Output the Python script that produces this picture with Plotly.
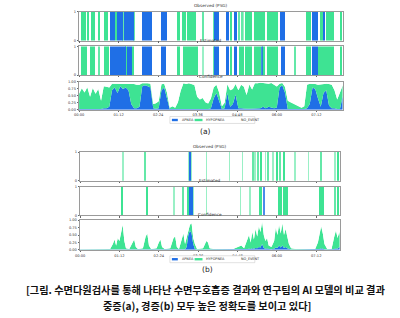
import plotly.graph_objects as go

# ---------------- DATA ----------------
TICK_VALS = [0, 72, 144, 216, 288, 360, 432]
TICK_TEXT = ["00:00", "01:12", "02:24", "03:36", "04:48", "06:00", "07:12"]
LABELS = ["APNEA", "HYPOPNEA", "NO_EVENT"]
PANEL_NAMES = ["Observed (PSG)", "Estimated", "Confidence"]
CAPTION_1 = "[그림. 수면다원검사를 통해 나타난 수면무호흡증 결과와 연구팀의 AI 모델의 비교 결과"
CAPTION_2 = "중증(a), 경증(b) 모두 높은 정확도를 보이고 있다]"

# events: (start_min, end_min, label)  A = apnea, H = hypopnea
obs_a = [(3, 12, "H"), (15, 19, "H"), (22, 30, "H"), (35, 38, "H"), (45, 53, "H"),
         (57, 66, "A"), (66, 69, "H"), (69, 80, "A"), (80, 82, "H"), (82, 94, "A"),
         (94, 100, "A"), (100, 102, "H"), (114, 132, "A"), (149, 160, "A"),
         (180, 183, "H"), (188, 195, "H"), (196, 213, "H"), (225, 227, "H"),
         (244, 246, "H"), (246, 255, "A"), (267, 273, "A"), (276, 279, "H"),
         (282, 288, "A"), (291, 293, "H"), (295, 297, "H"), (299, 300, "H"),
         (302, 315, "H"), (318, 339, "H"), (342, 363, "H"), (366, 375, "A"),
         (414, 423, "H"), (424, 435, "A"), (438, 445, "H"), (445, 448, "A"),
         (450, 465, "H"), (476, 479, "H")]
est_a = [(3, 15, "H"), (20, 30, "H"), (36, 38, "H"), (45, 54, "H"),
         (57, 85, "A"), (85, 88, "H"), (88, 96, "A"), (96, 101, "H"),
         (115, 132, "A"), (149, 159, "A"), (180, 183, "H"), (189, 216, "H"),
         (225, 226, "H"), (244, 246, "H"), (246, 255, "A"), (267, 273, "A"),
         (276, 279, "H"), (282, 288, "A"), (291, 300, "H"), (302, 315, "H"),
         (318, 332, "H"), (332, 334, "A"), (334, 339, "H"), (342, 363, "H"),
         (367, 375, "A"), (393, 395, "H"), (414, 423, "H"), (424, 435, "A"),
         (435, 465, "H"), (476, 479, "H")]
obs_b = [(78, 79, "H"), (118, 120, "H"), (199, 200, "H"), (200, 203, "A"),
         (203, 204, "H"), (231, 232, "H"), (273, 274, "H"), (297, 298, "H"),
         (315, 317, "H"), (320, 321, "H"), (324, 326, "H"), (330, 333, "H"),
         (339, 340, "H"), (343, 345, "H"), (352, 353, "H"), (360, 363, "H"),
         (365, 367, "H"), (372, 375, "H"), (393, 394, "H"), (417, 418, "H"),
         (440, 442, "H"), (466, 467, "H"), (471, 474, "H")]
est_b = [(75, 79, "H"), (120, 124, "H"), (171, 172, "H"), (188, 190, "H"),
         (196, 199, "H"), (199, 206, "A"), (206, 207, "H"), (231, 232, "H"),
         (293, 294, "H"), (310, 311, "H"), (327, 333, "H"), (335, 337, "A"),
         (362, 369, "H"), (372, 381, "H"), (438, 446, "H"), (466, 468, "H"),
         (471, 474, "H")]

# confidence (a): times in minutes, apnea / hypopnea probabilities
t_a = list(range(0, 481, 5))
apnea_a = [.02, .02, .02, .03, .02, .03, .02, .03, .02, .05, .05, .10, .70, .80, .60, .85,
           .75, .80, .70, .20, .05, .05, .10, .85, .88, .85, .80, .05, .03, .05, .70, .80,
           .40, .02, .02, .02, .02, .03, .03, .03, .02, .03, .03, .02, .02, .02, .02, .02,
           .05, .40, .60, .30, .02, .05, .60, .10, .20, .55, .05, .05, .03, .03, .03, .03,
           .03, .05, .05, .10, .05, .10, .08, .05, .08, .80, .88, .60, .02, .02, .02, .02,
           .02, .02, .02, .05, .20, .80, .75, .40, .10, .60, .70, .15, .05, .05, .02, .02, .50]
hypo_a = [.55, .75, .60, .78, .45, .75, .55, .72, .30, .80, .78, .70, .24, .14, .34, .10,
          .18, .14, .24, .74, .88, .85, .80, .10, .08, .10, .14, .15, .20, .25, .22, .14,
          .22, .05, .10, .05, .25, .65, .92, .90, .93, .90, .86, .45, .35, .40, .25, .20,
          .35, .40, .30, .32, .10, .20, .32, .60, .55, .38, .65, .85, .80, .50, .88, .70,
          .92, .90, .92, .86, .90, .84, .88, .84, .76, .14, .08, .22, .30, .25, .20, .15,
          .08, .05, .10, .85, .74, .14, .18, .50, .82, .34, .24, .78, .85, .65, .35, .60, .38]

# confidence (b)
t_b = [0, 20, 40, 55, 60, 63, 66, 69, 72, 75, 78, 81, 84, 90, 96, 99, 102, 106, 115, 120,
       123, 126, 130, 140, 144, 147, 150, 155, 165, 171, 174, 177, 181, 186, 189, 192, 195,
       198, 201, 204, 207, 210, 214, 225, 231, 234, 237, 245, 260, 280, 295, 300, 306, 309,
       312, 315, 318, 321, 324, 327, 330, 333, 336, 339, 342, 345, 350, 355, 358, 361, 364,
       367, 370, 373, 376, 379, 382, 386, 395, 410, 430, 435, 438, 441, 444, 447, 452, 460,
       465, 468, 471, 474, 475]
apnea_b = [.01, .01, .01, .01, .01, .01, .01, .01, .01, .01, .02, .01, .01, .01, .01, .01,
           .01, .01, .01, .01, .01, .01, .01, .01, .01, .01, .01, .01, .01, .01, .01, .01,
           .01, .02, .03, .02, .10, .50, .65, .55, .20, .03, .01, .01, .01, .01, .01, .01,
           .01, .01, .01, .01, .03, .04, .03, .05, .04, .06, .05, .10, .08, .20, .06, .04,
           .05, .03, .02, .04, .08, .06, .15, .08, .15, .06, .10, .05, .03, .01, .01, .01,
           .01, .01, .03, .05, .03, .02, .01, .01, .03, .05, .04, .10, .08]
hypo_b = [.01, .01, .01, .02, .19, .34, .14, .39, .29, .54, .83, .29, .04, .02, .24, .34,
          .09, .02, .04, .44, .54, .14, .02, .04, .24, .34, .09, .02, .04, .39, .44, .09,
          .02, .33, .52, .18, .30, .10, .20, .35, .20, .17, .02, .04, .29, .24, .04, .02,
          .02, .02, .14, .04, .32, .46, .22, .55, .31, .64, .40, .70, .52, .75, .44, .26,
          .35, .12, .08, .26, .67, .44, .70, .47, .75, .44, .60, .35, .17, .04, .02, .02,
          .02, .24, .57, .75, .52, .18, .02, .02, .42, .60, .36, .50, .42]

# ---------------- STYLE ----------------
COLORS = {"A": "#1f6fe6", "H": "#3ee393"}
W, H = 400, 318
FONT = "DejaVu Sans"
AX_COLOR = "#9a9a9a"

def py(v):  # pixel row -> paper y
    return 1 - v / H

def px(v):
    return v / W

# subplot boxes in pixels: (x0, x1, ytop, ybottom, xmax)
boxes = [
    (75, 342, 10, 39, 480), (75, 342, 45, 74, 480), (75, 342, 81, 109, 480),
    (76, 339, 152, 181, 475), (76, 339, 187, 216, 475), (76, 339, 221, 251, 475),
]

fig = go.Figure()

def add_events(events, idx):
    xmax = boxes[idx - 1][4]
    pxmin = (boxes[idx - 1][1] - boxes[idx - 1][0]) / xmax  # pixels per minute
    for lab in ("H", "A"):
        sel = [(s, e) for s, e, l in events if l == lab]
        for s, e in sel:
            wpx = (e - s) * pxmin
            op = min(1.0, 0.25 + 0.5 * wpx)
            fig.add_trace(go.Bar(x=[(s + e) / 2], y=[1], width=[e - s], base=0,
                                 marker=dict(color=COLORS[lab], line=dict(width=0),
                                             opacity=op),
                                 xaxis=f"x{idx}", yaxis=f"y{idx}", showlegend=False,
                                 hoverinfo="skip"))

def add_conf(t, ap, hy, idx, grp):
    no = [max(0.0, 1 - a - h) for a, h in zip(ap, hy)]
    for vals, col, name in [(ap, COLORS["A"], LABELS[0]), (hy, COLORS["H"], LABELS[1]),
                            (no, "#ffffff", LABELS[2])]:
        fig.add_trace(go.Scatter(x=t, y=vals, stackgroup=grp, mode="lines",
                                 line=dict(width=0, color=col), fillcolor=col, name=name,
                                 xaxis=f"x{idx}", yaxis=f"y{idx}", showlegend=False,
                                 hoverinfo="skip"))

add_events(obs_a, 1)
add_events(est_a, 2)
add_conf(t_a, apnea_a, hypo_a, 3, "ca")
add_events(obs_b, 4)
add_events(est_b, 5)
add_conf(t_b, apnea_b, hypo_b, 6, "cb")

layout = dict(width=W, height=H, margin=dict(l=0, r=0, t=0, b=0),
              paper_bgcolor="white", plot_bgcolor="white", barmode="overlay",
              bargap=0, font=dict(family=FONT, size=4, color="#333"))
annotations = []
shapes = []
for i, (x0, x1, yt, yb, xmax) in enumerate(boxes, start=1):
    conf = i in (3, 6)
    layout[f"xaxis{i}"] = dict(domain=[px(x0), px(x1)], range=[0, xmax], anchor=f"y{i}",
                               tickvals=TICK_VALS, ticktext=TICK_TEXT,
                               showticklabels=conf, ticks="outside", ticklen=1.5,
                               tickcolor="#666", tickwidth=0.6,
                               tickfont=dict(size=3.6, family=FONT, color="#333"),
                               showgrid=False, zeroline=False, showline=True, mirror=True,
                               linecolor=AX_COLOR, linewidth=0.8, fixedrange=True)
    if conf:
        yv = [0, 0.25, 0.5, 0.75, 1.0]
        yt_text = ["0.00", "0.25", "0.50", "0.75", "1.00"]
    else:
        yv = [0, 1]
        yt_text = ["0", "1"]
    layout[f"yaxis{i}"] = dict(domain=[py(yb), py(yt)], range=[0, 1], anchor=f"x{i}",
                               tickvals=yv, ticktext=yt_text, ticks="outside", ticklen=1.5,
                               tickcolor="#666", tickwidth=0.6,
                               tickfont=dict(size=3.6, family=FONT, color="#333"),
                               showgrid=False, zeroline=False, showline=True, mirror=True,
                               linecolor=AX_COLOR, linewidth=0.8, fixedrange=True)
    annotations.append(dict(x=px((x0 + x1) / 2), y=py(yt - 1.5), xref="paper", yref="paper",
                            text=PANEL_NAMES[(i - 1) % 3], showarrow=False,
                            xanchor="center", yanchor="bottom",
                            font=dict(size=4.2, family=FONT, color="#333")))

# manual legends under the confidence panels
for ly in (119.5, 260.5):
    shapes.append(dict(type="rect", xref="paper", yref="paper",
                       x0=px(167), x1=px(253), y0=py(ly + 3.5), y1=py(ly - 3.5),
                       line=dict(color="#cccccc", width=0.6), fillcolor="white"))
    for (sx0, sx1, tx, lab, col) in [(169, 175, 177, LABELS[0], COLORS["A"]),
                                      (192, 200, 202, LABELS[1], COLORS["H"]),
                                      (228, 235, 237, LABELS[2], "#ffffff")]:
        shapes.append(dict(type="rect", xref="paper", yref="paper",
                           x0=px(sx0), x1=px(sx1), y0=py(ly + 1.2), y1=py(ly - 1.2),
                           line=dict(width=0), fillcolor=col))
        annotations.append(dict(x=px(tx), y=py(ly), xref="paper", yref="paper", text=lab,
                                showarrow=False, xanchor="left", yanchor="middle",
                                font=dict(size=3.4, family=FONT, color="#333")))

annotations.append(dict(x=px(203), y=py(131), xref="paper", yref="paper", text="(a)",
                        showarrow=False, xanchor="center", yanchor="middle",
                        font=dict(size=7.5, family=FONT, color="#222")))
annotations.append(dict(x=px(205), y=py(271), xref="paper", yref="paper", text="(b)",
                        showarrow=False, xanchor="center", yanchor="middle",
                        font=dict(size=7.5, family=FONT, color="#222")))
annotations.append(dict(x=px(203), y=py(291), xref="paper", yref="paper", text=CAPTION_1,
                        showarrow=False, xanchor="center", yanchor="middle",
                        font=dict(size=10.2, family="Noto Sans CJK KR", color="#111",
                                  weight="bold")))
annotations.append(dict(x=px(205), y=py(307), xref="paper", yref="paper", text=CAPTION_2,
                        showarrow=False, xanchor="center", yanchor="middle",
                        font=dict(size=10.2, family="Noto Sans CJK KR", color="#111",
                                  weight="bold")))

layout["annotations"] = annotations
layout["shapes"] = shapes
fig.update_layout(**layout)
fig.write_html("out.html", config={"displayModeBar": False})
